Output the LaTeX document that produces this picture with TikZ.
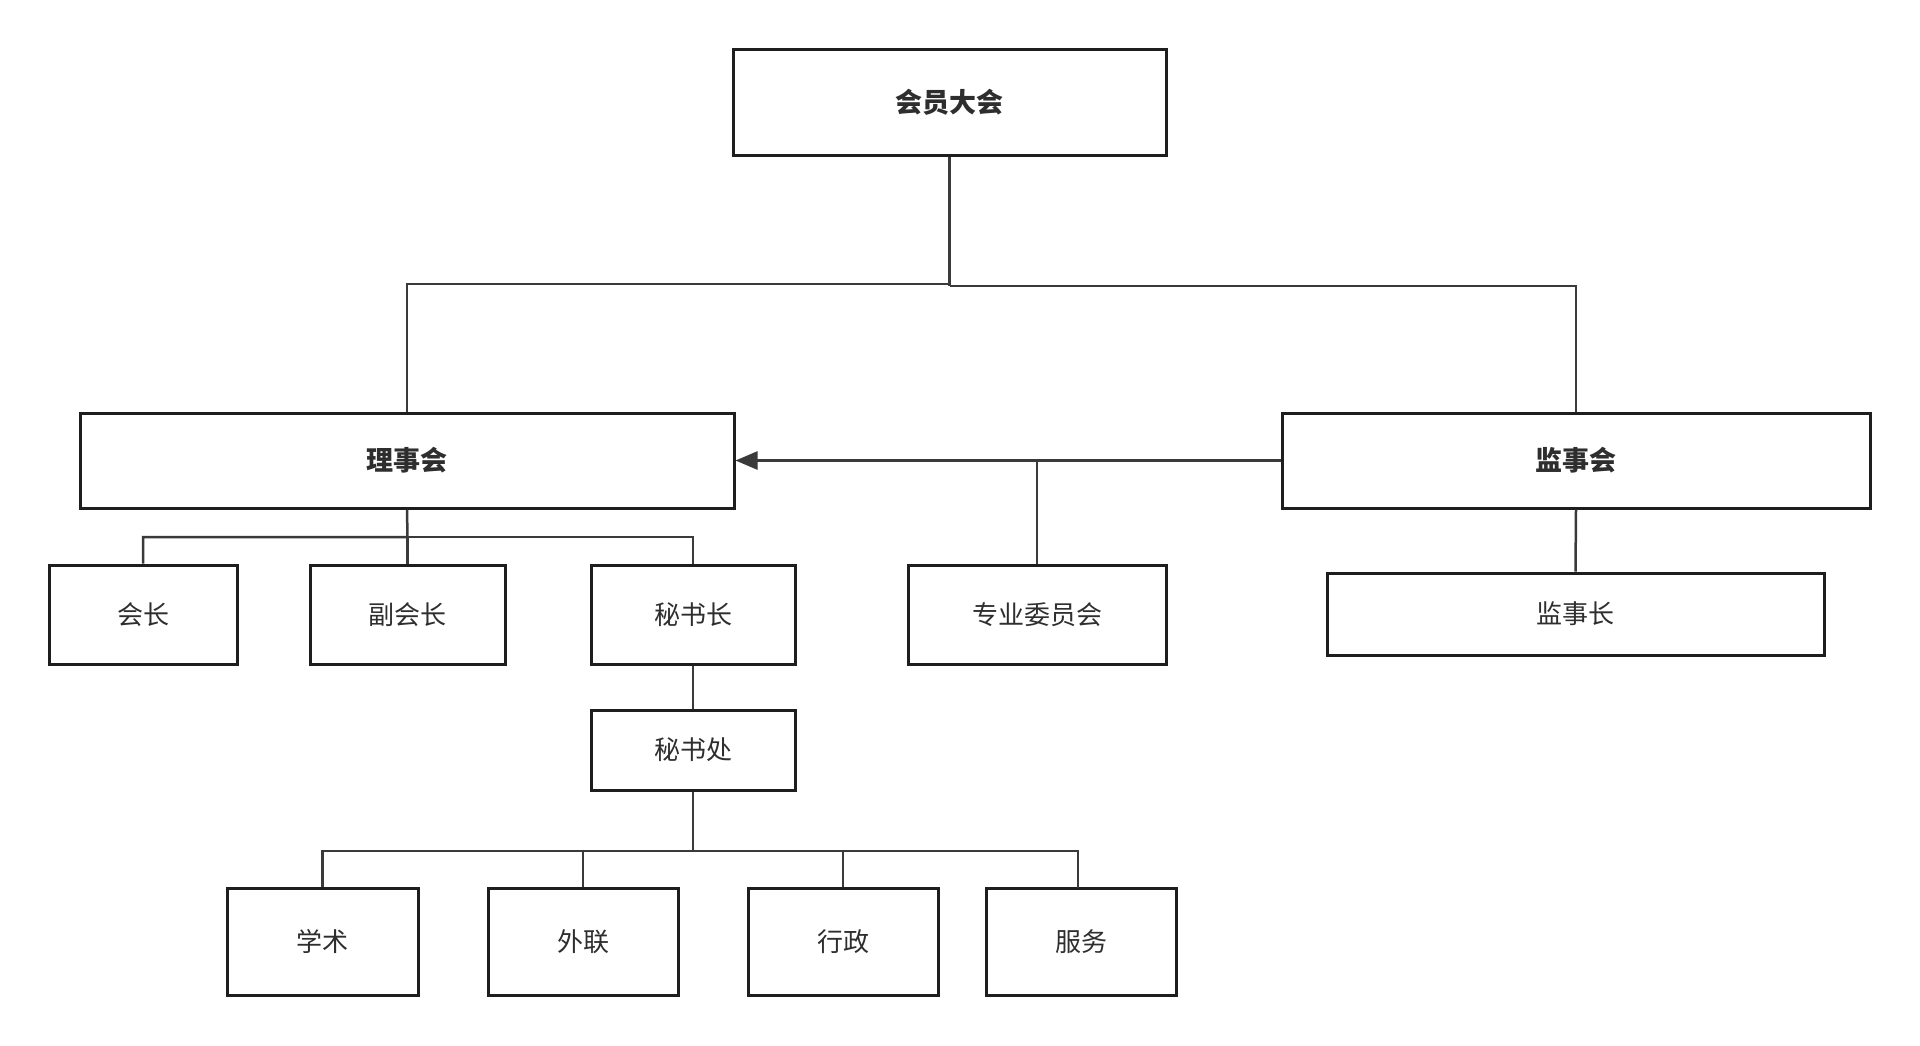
\documentclass[tikz,border=0pt]{standalone}
\usepackage{fontspec}
\newfontfamily\cjk{Noto Sans CJK SC}
\usetikzlibrary{arrows.meta}
\definecolor{boxline}{HTML}{1E1E1E}
\definecolor{conn}{HTML}{3A3A3A}
\definecolor{txt}{HTML}{2E2E2E}
\tikzset{
  orgbox/.style={draw=boxline, line width=3pt, rectangle, fill=white, inner sep=0pt,
    text=txt, font=\cjk\fontsize{26}{30}\selectfont},
  headbox/.style={orgbox, font=\cjk\bfseries\fontsize{27}{30}\selectfont},
  link/.style={draw=conn, line width=2.5pt},
}
\begin{document}
\begin{tikzpicture}[x=1pt,y=-1pt]
\useasboundingbox[fill=white] (0,0) rectangle (1920,1045);
% top level
\node[headbox, minimum width=433pt, minimum height=106pt] (hy) at (949.5,102) {会员大会};
\node[headbox, minimum width=654pt, minimum height=95pt] (lsh) at (407,460.5) {理事会};
\node[headbox, minimum width=588pt, minimum height=95pt] (jsh) at (1576,460.5) {监事会};
% second row
\node[orgbox, minimum width=188pt, minimum height=99pt] (hz) at (143,614.5) {会长};
\node[orgbox, minimum width=195pt, minimum height=99pt] (fhz) at (407.5,614.5) {副会长};
\node[orgbox, minimum width=204pt, minimum height=99pt] (msz) at (693,614.5) {秘书长};
\node[orgbox, minimum width=258pt, minimum height=99pt] (zy) at (1037,614.5) {专业委员会};
\node[orgbox, minimum width=497pt, minimum height=82pt] (jsz) at (1575.5,614) {监事长};
% secretariat
\node[orgbox, minimum width=204pt, minimum height=80pt] (msc) at (693,750) {秘书处};
\node[orgbox, minimum width=191pt, minimum height=107pt] (xs) at (322.5,941.5) {学术};
\node[orgbox, minimum width=190pt, minimum height=107pt] (wl) at (583,941.5) {外联};
\node[orgbox, minimum width=190pt, minimum height=107pt] (xz) at (843,941.5) {行政};
\node[orgbox, minimum width=190pt, minimum height=107pt] (fw) at (1081,941.5) {服务};
% buses
\coordinate (busAL) at (949.5,284);
\coordinate (busAR) at (949.5,286);
\coordinate (busB) at (407.5,537);
\coordinate (busC) at (693,851);
\coordinate (fwtop) at (1078,888);
% connectors
\draw[link] (hy.south) -- (busAR);
\draw[link] (busAL) -| (lsh.north);
\draw[link] (busAR) -| (jsh.north);
\draw[link] (lsh.south) -- (busB) -| (hz.north);
\draw[link] (busB) -| (msz.north);
\draw[link] (busB) -- (fhz.north);
\draw[link, -{Triangle[length=22pt, width=18pt]}] (jsh.west) -- (lsh.east);
\draw[link] (zy.north) -- (zy.north |- jsh.west);
\draw[link] (jsh.south) -- (jsz.north);
\draw[link] (msz.south) -- (msc.north);
\draw[link] (msc.south) -- (busC) -| (xs.north);
\draw[link] (busC) -| (fwtop);
\draw[link] (wl.north) -- (wl.north |- busC);
\draw[link] (xz.north) -- (xz.north |- busC);
\end{tikzpicture}
\end{document}
